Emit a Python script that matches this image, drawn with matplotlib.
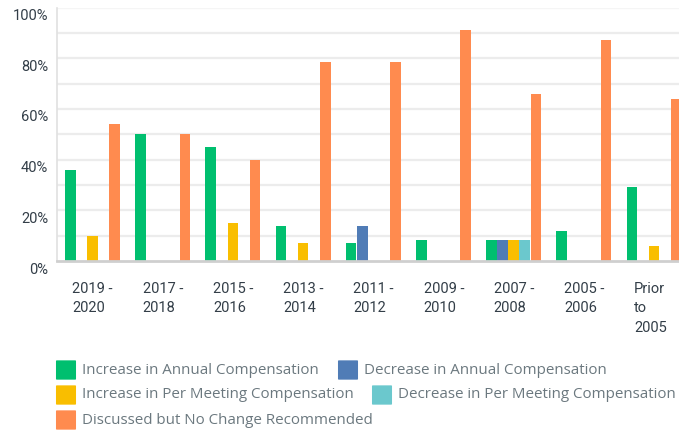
import numpy as np
import matplotlib
matplotlib.use("Agg")
import matplotlib.pyplot as plt
import matplotlib.transforms as mtransforms
from matplotlib.patches import FancyBboxPatch

# Data (percent of respondents)
periods = ["2019 -\n2020", "2017 -\n2018", "2015 -\n2016", "2013 -\n2014", "2011 -\n2012",
           "2009 -\n2010", "2007 -\n2008", "2005 -\n2006", "Prior\nto\n2005"]
series_names = ["Increase in Annual Compensation", "Decrease in Annual Compensation",
                "Increase in Per Meeting Compensation", "Decrease in Per Meeting Compensation",
                "Discussed but No Change Recommended"]
inc_annual = [36, 50, 45, 14, 7, 8.3, 8.3, 12, 29]
dec_annual = [0, 0, 0, 0, 14, 0, 8.3, 0, 0]
inc_meeting = [10, 0, 15, 7, 0, 0, 8.3, 0, 6]
dec_meeting = [0, 0, 0, 0, 0, 0, 8.3, 0, 0]
no_change = [54, 50, 40, 78.5, 78.5, 91, 66, 87, 64]
colors = ["#00bf6f", "#507cb6", "#f9be00", "#6bc8cd", "#ff8b4f"]

W, H = 679, 434
fig = plt.figure(figsize=(W / 100, H / 100), dpi=100)

# axes placed in pixel terms: left edge x=57, baseline y=261, top (100%) y=7.5
ax_left, ax_bottom, ax_top = 57.4, 261, 7.5
ax = fig.add_axes([ax_left / W, (H - ax_bottom) / H, (W - ax_left) / W, (ax_bottom - ax_top) / H])

x = np.arange(len(periods))
bw = 0.158
values = [inc_annual, dec_annual, inc_meeting, dec_meeting, no_change]
for k, (vals, c) in enumerate(zip(values, colors)):
    ax.bar(x + (k - 2) * bw, vals, width=bw * 0.96, color=c, linewidth=0, zorder=3)

ax.set_xlim(-0.5, -0.5 + (W - ax_left) / 70.2)
ax.set_ylim(0, 100)

# light horizontal grid every 10%
for v in range(10, 101, 10):
    ax.axhline(v, color="#f5f5f5" if v == 100 else "#ececec", lw=1.6, zorder=1)

for s in ["top", "right"]:
    ax.spines[s].set_visible(False)
ax.spines["left"].set_color("#e0e0e0")
ax.spines["left"].set_linewidth(1.2)
ax.spines["bottom"].set_color("#cfcfcf")
ax.spines["bottom"].set_linewidth(2)
ax.spines["bottom"].set_zorder(4)

tick_color = "#333e48"
ax.set_yticks(range(0, 101, 20))
ax.set_yticklabels([f"{v}%" for v in range(0, 101, 20)])
ax.tick_params(axis="y", length=0, pad=6.5, labelsize=10.5, labelcolor=tick_color)
ax.set_xticks(x)
ax.set_xticklabels(periods, ha="left", linespacing=1.5)
ax.tick_params(axis="x", length=0, pad=15, labelsize=10.5, labelcolor=tick_color)

# y labels sit a little below their gridlines, x labels are left aligned blocks
shift_y = mtransforms.ScaledTranslation(0, -7 / 100, fig.dpi_scale_trans)
for lbl in ax.get_yticklabels():
    lbl.set_transform(lbl.get_transform() + shift_y)
    lbl.set_fontfamily("Roboto")
shift_x = mtransforms.ScaledTranslation(-20 / 100, 0, fig.dpi_scale_trans)
for lbl in ax.get_xticklabels():
    lbl.set_transform(lbl.get_transform() + shift_x)
    lbl.set_fontfamily("Roboto")
    lbl.set_verticalalignment("top")

# flowing legend below the chart, drawn by hand (positions in pixels)
legend_slots = [(56, 370), (338, 370), (56, 395), (372, 395), (56, 420)]
for name, c, (px, py) in zip(series_names, colors, legend_slots):
    box = FancyBboxPatch(((px + 1) / W, (H - py - 9) / H), 18 / W, 18 / H,
                         boxstyle="round,pad=0.0015", transform=fig.transFigure,
                         facecolor=c, edgecolor="none")
    fig.patches.append(box)
    fig.text((px + 26) / W, (H - py) / H, name, fontsize=10.9, color="#6b787f",
             va="center", ha="left", family="Open Sans")

fig.savefig("out.png", dpi=100)
